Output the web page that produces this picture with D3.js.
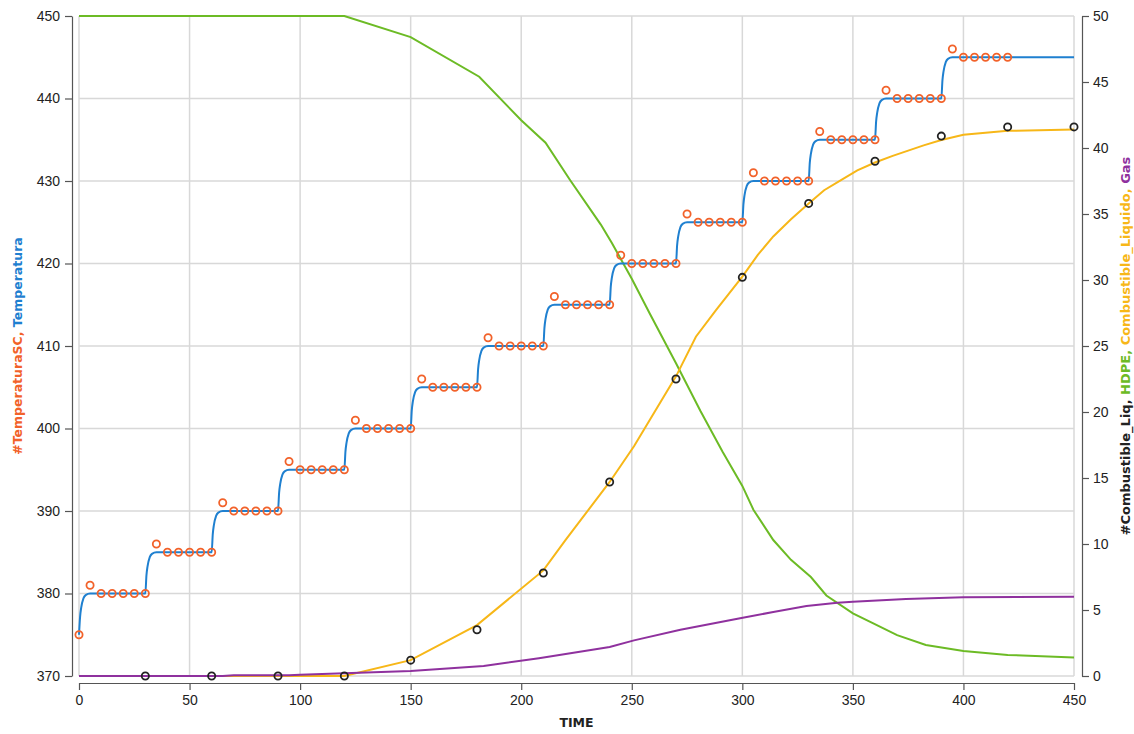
<!DOCTYPE html>
<html lang="en">
<head>
<meta charset="utf-8">
<title>Temperatura / HDPE</title>
<script src="https://cdn.jsdelivr.net/npm/d3@7"></script>
<style>
  body { margin: 0; background: #fff; }
  svg { display: block; font-family: "DejaVu Sans", Verdana, sans-serif; }
  .axis path, .axis line { stroke: #555; stroke-width: 1.2; }
  .axis text { fill: #222; font-size: 14px; }
  .grid line { stroke: #d8d8d8; stroke-width: 1.5; }
  .title { font-weight: bold; font-size: 12.5px; }
</style>
</head>
<body>
<svg id="chart" width="1134" height="734"></svg>
<script>
// data
var xTicks = [0, 50, 100, 150, 200, 250, 300, 350, 400, 450];
var leftTicks = [370, 380, 390, 400, 410, 420, 430, 440, 450];
var rightTicks = [0, 5, 10, 15, 20, 25, 30, 35, 40, 45, 50];

// Temperatura (left axis), [time, value]
var temperatura = [
  [0,375],[0.5,377.2],[1,378.3],[2,379.4],[3,379.8],[5,380],
  [30,380],[30.5,382.2],[31,383.3],[32,384.4],[33,384.8],[35,385],
  [60,385],[60.5,387.2],[61,388.3],[62,389.4],[63,389.8],[65,390],
  [90,390],[90.5,392.2],[91,393.3],[92,394.4],[93,394.8],[95,395],
  [120,395],[120.5,397.2],[121,398.3],[122,399.4],[123,399.8],[125,400],
  [150,400],[150.5,402.2],[151,403.3],[152,404.4],[153,404.8],[155,405],
  [180,405],[180.5,407.2],[181,408.3],[182,409.4],[183,409.8],[185,410],
  [210,410],[210.5,412.2],[211,413.3],[212,414.4],[213,414.8],[215,415],
  [240,415],[240.5,417.2],[241,418.3],[242,419.4],[243,419.8],[245,420],
  [270,420],[270.5,422.2],[271,423.3],[272,424.4],[273,424.8],[275,425],
  [300,425],[300.5,427.2],[301,428.3],[302,429.4],[303,429.8],[305,430],
  [330,430],[330.5,432.2],[331,433.3],[332,434.4],[333,434.8],[335,435],
  [360,435],[360.5,437.2],[361,438.3],[362,439.4],[363,439.8],[365,440],
  [390,440],[390.5,442.2],[391,443.3],[392,444.4],[393,444.8],[395,445],
  [450,445]
];

// #TemperaturaSC markers (left axis), every 5 time units from 0 to 420
var scTimes = d3.range(0, 421, 5);
var scValues = [375,
  381,380,380,380,380,380,
  386,385,385,385,385,385,
  391,390,390,390,390,390,
  396,395,395,395,395,395,
  401,400,400,400,400,400,
  406,405,405,405,405,405,
  411,410,410,410,410,410,
  416,415,415,415,415,415,
  421,420,420,420,420,420,
  426,425,425,425,425,425,
  431,430,430,430,430,430,
  436,435,435,435,435,435,
  441,440,440,440,440,440,
  446,445,445,445,445,445];

// #Combustible_Liq markers (right axis)
var liqMarkTimes = [30,60,90,120,150,180,210,240,270,300,330,360,390,420,450];
var liqMarkValues = [0,0,0,0,1.2,3.5,7.8,14.7,22.5,30.2,35.8,39.0,40.9,41.6,41.6];

// HDPE (right axis)
var hdpeTimes = [0,120,150,181,200,211,222,236,241,250,258,270,281,291,300,305,314,322,331,338,350,359,370,383,400,420,450];
var hdpeValues = [50,50,48.4,45.4,42.1,40.4,37.6,34.2,32.8,30.1,27.5,23.7,20.1,17.0,14.4,12.6,10.3,8.8,7.5,6.1,4.75,4.0,3.1,2.35,1.9,1.6,1.4];

// Combustible_Liquido (right axis)
var liquidoTimes = [0,120,150,180,210,220,240,251,270,279,288,300,307,314,322,330,337,345,352,360,368,375,382,390,400,420,450];
var liquidoValues = [0,0,1.2,3.86,8.0,10.3,14.7,17.4,22.7,25.7,27.7,30.25,31.9,33.3,34.6,35.8,36.8,37.6,38.3,38.9,39.4,39.8,40.2,40.6,41.0,41.3,41.4];

// Gas (right axis)
var gasTimes = [0,65,70,95,100,120,150,183,208,240,251,272,299,314,329,343,350,374,400,450];
var gasValues = [0,0,0.05,0.05,0.1,0.2,0.38,0.76,1.34,2.2,2.7,3.5,4.37,4.85,5.3,5.55,5.63,5.83,5.96,6.0];

var colors = {
  temp: '#1f80d0',
  sc: '#f2622a',
  hdpe: '#6cbb25',
  liquido: '#f7b718',
  gas: '#8f319e',
  liqMark: '#222'
};

var svg = d3.select('#chart');
var plotLeft = 79, plotRight = 1074, plotTop = 16, plotBottom = 676;

var x = d3.scaleLinear().domain([0, 450]).range([plotLeft, plotRight]);
var yL = d3.scaleLinear().domain([370, 450]).range([plotBottom, plotTop]);
var yR = d3.scaleLinear().domain([0, 50]).range([plotBottom, plotTop]);

// grid
var grid = svg.append('g').attr('class', 'grid');
grid.selectAll('line.v').data(xTicks).enter().append('line')
  .attr('x1', function(d) { return x(d); }).attr('x2', function(d) { return x(d); })
  .attr('y1', plotTop).attr('y2', plotBottom);
grid.selectAll('line.h').data(leftTicks).enter().append('line')
  .attr('y1', function(d) { return yL(d); }).attr('y2', function(d) { return yL(d); })
  .attr('x1', plotLeft).attr('x2', plotRight);

// axes
svg.append('g').attr('class', 'axis')
  .attr('transform', 'translate(0,' + (plotBottom + 7) + ')')
  .call(d3.axisBottom(x).tickValues(xTicks).tickSize(7).tickSizeOuter(0).tickPadding(5));
svg.append('g').attr('class', 'axis')
  .attr('transform', 'translate(' + (plotLeft - 7) + ',0)')
  .call(d3.axisLeft(yL).tickValues(leftTicks).tickSize(7).tickSizeOuter(0).tickPadding(5));
svg.append('g').attr('class', 'axis')
  .attr('transform', 'translate(' + (plotRight + 8) + ',0)')
  .call(d3.axisRight(yR).tickValues(rightTicks).tickSize(7).tickSizeOuter(0).tickPadding(4));

// lines
function series(times, values) {
  return times.map(function(t, i) { return [t, values[i]]; });
}
var lineR = d3.line().x(function(d) { return x(d[0]); }).y(function(d) { return yR(d[1]); });
var lineL = d3.line().x(function(d) { return x(d[0]); }).y(function(d) { return yL(d[1]); })
  .curve(d3.curveMonotoneX);

svg.append('path').datum(series(hdpeTimes, hdpeValues))
  .attr('d', lineR).attr('fill', 'none').attr('stroke', colors.hdpe).attr('stroke-width', 2);
svg.append('path').datum(series(liquidoTimes, liquidoValues))
  .attr('d', lineR).attr('fill', 'none').attr('stroke', colors.liquido).attr('stroke-width', 2);
svg.append('path').datum(series(gasTimes, gasValues))
  .attr('d', lineR).attr('fill', 'none').attr('stroke', colors.gas).attr('stroke-width', 2);
svg.append('path').datum(temperatura)
  .attr('d', lineL).attr('fill', 'none').attr('stroke', colors.temp).attr('stroke-width', 2);

// markers
svg.append('g').selectAll('circle').data(series(liqMarkTimes, liqMarkValues)).enter().append('circle')
  .attr('cx', function(d) { return x(d[0]); })
  .attr('cy', function(d) { return yR(d[1]); })
  .attr('r', 3.6).attr('fill', 'none').attr('stroke', colors.liqMark).attr('stroke-width', 1.8);
svg.append('g').selectAll('circle').data(series(scTimes, scValues)).enter().append('circle')
  .attr('cx', function(d) { return x(d[0]); })
  .attr('cy', function(d) { return yL(d[1]); })
  .attr('r', 3.6).attr('fill', 'none').attr('stroke', colors.sc).attr('stroke-width', 1.8);

// axis titles
svg.append('text').attr('class', 'title')
  .attr('x', (plotLeft + plotRight) / 2).attr('y', 727)
  .attr('text-anchor', 'middle').attr('fill', '#222').text('TIME');

var lt = svg.append('text').attr('class', 'title')
  .attr('transform', 'translate(22,' + ((plotTop + plotBottom) / 2) + ') rotate(-90)')
  .attr('text-anchor', 'middle');
lt.append('tspan').attr('fill', colors.sc).text('#TemperaturaSC, ');
lt.append('tspan').attr('fill', colors.temp).text('Temperatura');

var rt = svg.append('text').attr('class', 'title')
  .attr('transform', 'translate(1130,' + ((plotTop + plotBottom) / 2) + ') rotate(-90)')
  .attr('text-anchor', 'middle').style('font-size', '13px');
rt.append('tspan').attr('fill', '#222').text('#Combustible_Liq, ');
rt.append('tspan').attr('fill', colors.hdpe).text('HDPE, ');
rt.append('tspan').attr('fill', colors.liquido).text('Combustible_Liquido, ');
rt.append('tspan').attr('fill', colors.gas).text('Gas');
</script>
</body>
</html>
